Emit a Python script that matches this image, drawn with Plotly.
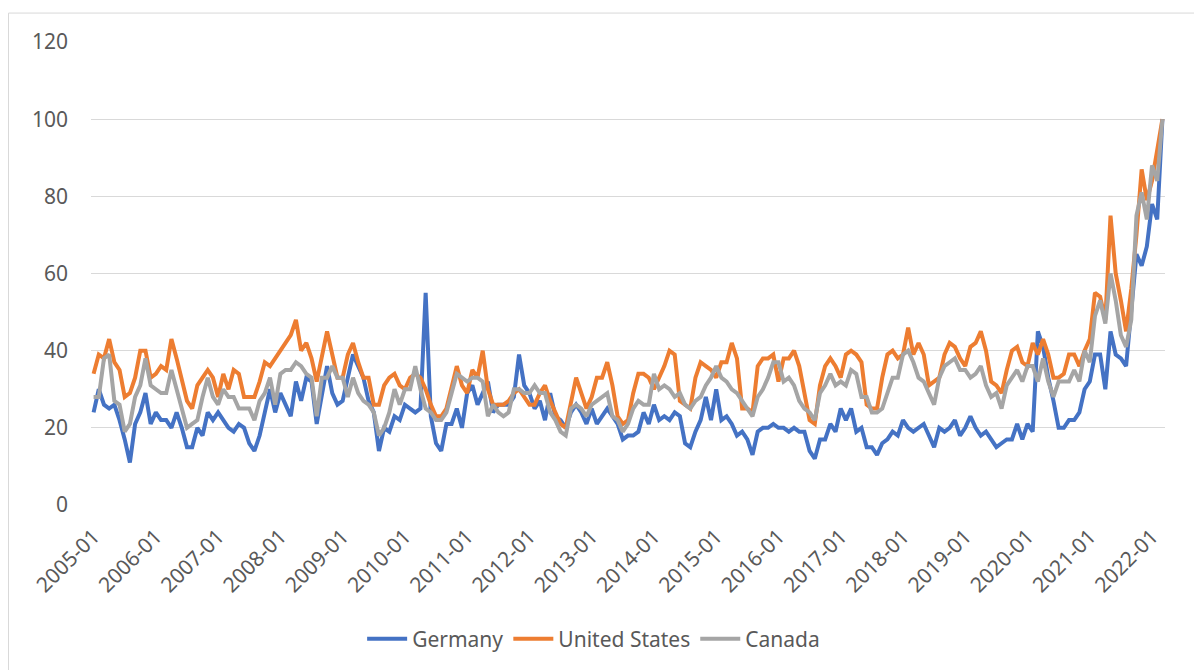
import plotly.graph_objects as go

# ---- data ----
years = list(range(2005, 2023))
months = [f"{y}-{m:02d}" for y in years for m in range(1, 13)][:207]  # 2005-01 .. 2022-03
tick_labels = [f"{y}-01" for y in years]

germany = [
    24, 30, 26, 25, 26, 22, 17, 11, 21, 24, 29, 21, 24, 22, 22, 20, 24, 20, 15, 15,
    20, 18, 24, 22, 24, 22, 20, 19, 21, 20, 16, 14, 18,
    24, 30, 24, 29, 26, 23, 32, 27, 33, 32, 21, 29, 36, 29, 26, 27, 33, 39, 36, 33,
    27, 24, 14, 20, 19, 23, 22, 26, 25, 24, 25, 55, 23, 16, 14, 21, 21,
    25, 20, 29, 31, 26, 29, 32, 24, 26, 26, 26, 28, 39, 31, 29, 25, 27, 22, 29, 23,
    22, 20, 24, 26, 24, 21, 25, 21, 23, 25, 23, 21, 17, 18, 18,
    19, 24, 21, 26, 22, 23, 22, 24, 23, 16, 15, 19, 22, 28, 22, 30, 22, 23, 21, 18,
    19, 17, 13, 19, 20, 20, 21, 20, 20, 19, 20, 19, 19, 14, 12,
    17, 17, 21, 19, 25, 22, 25, 19, 20, 15, 15, 13, 16, 17, 19, 18, 22, 20, 19, 20,
    21, 18, 15, 20, 19, 20, 22, 18, 20, 23, 20, 18, 19, 17, 15,
    16, 17, 17, 21, 17, 21, 19, 45, 41, 33, 27, 20, 20, 22, 22, 24, 30, 32, 39, 39,
    30, 45, 39, 38, 36, 50, 65, 62, 67, 78, 74, 100,
]

united_states = [
    34, 39, 38, 43, 37, 35, 28, 29, 33, 40, 40, 33, 34, 36, 35, 43, 38, 32, 27, 25,
    31, 33, 35, 33, 28, 34, 30, 35, 34, 28, 28, 28, 32,
    37, 36, 38, 40, 42, 44, 48, 40, 42, 38, 32, 38, 45, 39, 33, 33, 39, 42, 37, 33,
    33, 26, 26, 31, 33, 34, 31, 30, 33, 34, 33, 30, 26, 23, 23, 25, 31,
    36, 31, 29, 35, 33, 40, 30, 26, 26, 26, 27, 29, 30, 28, 26, 26, 29, 31, 27, 24,
    21, 20, 26, 33, 29, 25, 28, 33, 33, 37, 31, 23, 21, 22, 29,
    34, 34, 33, 30, 33, 36, 40, 39, 27, 26, 25, 33, 37, 36, 35, 33, 37, 37, 42, 38,
    25, 25, 24, 36, 38, 38, 39, 32, 38, 38, 40, 36, 29, 22, 21,
    31, 36, 38, 36, 33, 39, 40, 39, 37, 26, 25, 25, 33, 39, 40, 38, 39, 46, 39, 42,
    39, 31, 32, 33, 39, 42, 41, 38, 36, 41, 42, 45, 40, 32, 31,
    29, 35, 40, 41, 37, 36, 42, 39, 43, 39, 33, 33, 34, 39, 39, 36, 40, 43, 55, 54,
    48, 75, 60, 53, 45, 56, 70, 87, 79, 84, 92, 100,
]

canada = [
    28, 28, 38, 39, 27, 26, 19, 21, 28, 31, 38, 31, 30, 29, 29, 35, 30, 25, 20, 21,
    22, 28, 33, 28, 26, 30, 28, 28, 25, 25, 25, 22, 27,
    29, 33, 26, 34, 35, 35, 37, 36, 34, 33, 23, 33, 33, 36, 33, 33, 28, 33, 29, 27,
    26, 24, 18, 20, 24, 30, 26, 30, 30, 36, 30, 25, 24, 22, 22, 24, 29,
    34, 33, 32, 33, 33, 32, 23, 26, 24, 23, 24, 30, 30, 29, 29, 31, 29, 29, 24, 22,
    19, 18, 25, 26, 25, 23, 26, 27, 28, 29, 23, 22, 19, 21, 25,
    27, 26, 26, 34, 30, 31, 30, 28, 29, 26, 25, 27, 28, 31, 33, 36, 33, 32, 30, 29,
    27, 25, 23, 28, 30, 33, 37, 37, 32, 33, 31, 27, 25, 24, 22,
    29, 31, 34, 31, 32, 31, 35, 34, 28, 28, 24, 24, 25, 29, 33, 33, 39, 40, 37, 33,
    32, 29, 26, 33, 36, 37, 38, 35, 35, 33, 34, 36, 31, 28, 29,
    25, 31, 33, 35, 32, 36, 36, 32, 38, 32, 28, 32, 32, 32, 35, 32, 40, 37, 49, 53,
    47, 60, 53, 44, 41, 48, 75, 81, 74, 88, 84, 100,
]

series = [
    ("Germany", germany, "#4472C4"),
    ("United States", united_states, "#ED7D31"),
    ("Canada", canada, "#A5A5A5"),
]

# ---- figure ----
# page body has an 8px margin, so the figure is drawn 8px in from the top-left
W, H = 1194, 662
L, R, T, B = 83, 37, 34, 164
FONT = "Noto Sans, Liberation Sans, Arial, sans-serif"
TXT = "#595959"
FS = 21

fig = go.Figure()
for name, vals, color in series:
    fig.add_trace(go.Scatter(
        x=months, y=vals, name=name, mode="lines",
        line=dict(color=color, width=4),
        hovertemplate="%{x}: %{y}<extra>" + name + "</extra>",
    ))

pw = W - L - R
ph = H - T - B
fig.add_shape(
    type="rect", xref="paper", yref="paper",
    x0=(0.5 - L) / pw, x1=(W + 20 - L) / pw,
    y0=(T + ph - (H + 20)) / ph, y1=(T + ph - 5) / ph,
    line=dict(color="#D9D9D9", width=1), fillcolor="rgba(0,0,0,0)", layer="below",
)

fig.update_layout(
    width=W, height=H,
    margin=dict(l=L, r=R, t=T, b=B, pad=0),
    paper_bgcolor="white", plot_bgcolor="white",
    font=dict(family=FONT, size=FS, color=TXT),
    showlegend=True,
    legend=dict(
        orientation="h", x=0.468, xanchor="center", y=-0.287, yanchor="middle",
        font=dict(family=FONT, size=FS, color=TXT),
        itemwidth=40, tracegroupgap=0,
    ),
    xaxis=dict(
        type="category",
        categoryorder="array", categoryarray=months,
        tickmode="array", tickvals=tick_labels, ticktext=tick_labels,
        tickangle=-45, showgrid=False, zeroline=False,
        showline=False, ticks="", ticklabelstandoff=14,
        range=[-0.5, len(months) - 0.5],
        tickfont=dict(family=FONT, size=FS, color=TXT),
    ),
    yaxis=dict(
        range=[0, 120], tickmode="array", tickvals=[0, 20, 40, 60, 80, 100, 120],
        showgrid=True, gridcolor="#D9D9D9", gridwidth=1.3,
        zeroline=False, showline=False, ticks="", ticklabelstandoff=22,
        tickfont=dict(family=FONT, size=FS, color=TXT),
    ),
)

fig.write_html("out.html")
